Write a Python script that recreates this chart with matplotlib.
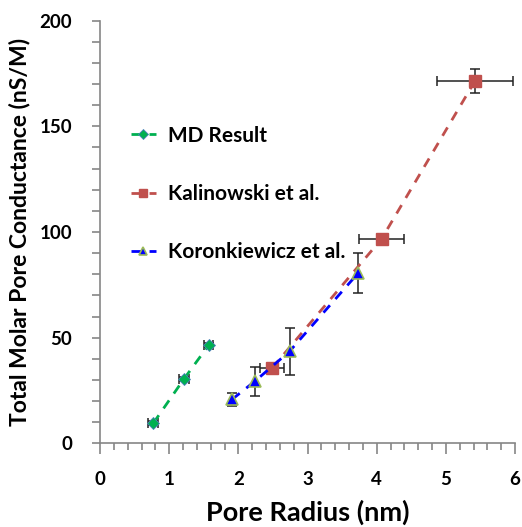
import matplotlib
matplotlib.use("Agg")
import matplotlib.pyplot as plt
from matplotlib.ticker import MultipleLocator

plt.rcParams['font.family'] = ['Lato', 'DejaVu Sans']

md_x = [0.77, 1.21, 1.57]
md_y = [9.5, 30.3, 46.4]
md_xerr = [0.07, 0.07, 0.07]
md_yerr = [1.0, 1.0, 1.0]

kal_x = [2.49, 4.07, 5.42]
kal_y = [35.7, 96.7, 171.4]
kal_xerr = [0.17, 0.32, 0.55]
kal_yerr = [1.5, 2.5, 5.6]

kor_x = [1.91, 2.24, 2.74, 3.73]
kor_y = [20.8, 29.4, 43.5, 80.5]
kor_yerr = [3.0, 6.8, 11.2, 9.4]

fig = plt.figure(figsize=(5.22, 5.27), dpi=100)
ax = fig.add_axes([0.1916, 0.1588, 0.795, 0.8019])

ekw = dict(ecolor='#222222', elinewidth=1.1, capsize=3.5, capthick=1.1, zorder=2)

ax.errorbar(md_x, md_y, xerr=md_xerr, yerr=md_yerr, fmt='none', **ekw)
ax.errorbar(kal_x, kal_y, xerr=kal_xerr, yerr=kal_yerr, fmt='none', **ekw)
ax.errorbar(kor_x, kor_y, yerr=kor_yerr, fmt='none', **ekw)

l1, = ax.plot(md_x, md_y, ls=(0, (3.5, 3)), lw=2, color='#00B050', marker='D',
              ms=6, mfc='#00B050', mec='#4F81BD', mew=0.6, zorder=3, label='MD Result')
l2, = ax.plot(kal_x, kal_y, ls=(0, (3.5, 3)), lw=2, color='#C0504D', marker='s',
              ms=8, mfc='#C0504D', mec='#C0504D', zorder=3, label='Kalinowski et al.')
l3, = ax.plot(kor_x, kor_y, ls=(0, (3.5, 3)), lw=2, color='#0000FF', marker='^',
              ms=8, mfc='#0000FF', mec='#9BBB59', mew=1.2, zorder=4, label='Koronkiewicz et al.')

ax.set_xlim(0, 6)
ax.set_ylim(0, 200)
ax.xaxis.set_major_locator(MultipleLocator(1))
ax.xaxis.set_minor_locator(MultipleLocator(0.2))
ax.yaxis.set_major_locator(MultipleLocator(50))
ax.yaxis.set_minor_locator(MultipleLocator(10))

for s in ['top', 'right']:
    ax.spines[s].set_visible(False)
for s in ['left', 'bottom']:
    ax.spines[s].set_color('#868686')
    ax.spines[s].set_linewidth(1.2)

ax.tick_params(axis='both', which='both', direction='out', color='#868686', width=1.2)
ax.tick_params(axis='x', which='major', length=8, labelsize=13.5, pad=12)
ax.tick_params(axis='x', which='minor', length=5)
ax.tick_params(axis='y', which='major', length=6, labelsize=13.5, pad=14)
ax.tick_params(axis='y', which='minor', length=6)
for lab in ax.get_xticklabels() + ax.get_yticklabels():
    lab.set_fontweight('bold')

ax.set_xlabel('Pore Radius (nm)', fontsize=19.5, fontweight='bold')
ax.set_ylabel('Total Molar Pore Conductance (nS/M)', fontsize=16.5, fontweight='bold')
ax.xaxis.set_label_coords(0.5, -0.163)
ax.yaxis.set_label_coords(-0.193, 0.5)
ax.xaxis.label.set_va('center')
ax.yaxis.label.set_va('center')

leg = ax.legend(handles=[l1, l2, l3], loc='upper left', bbox_to_anchor=(0.029, 0.796),
                frameon=False, handlelength=1.2, labelspacing=1.84, handletextpad=0.6,
                markerscale=0.8, prop={'size': 15, 'weight': 'bold'})

fig.savefig('out.png', dpi=100)
